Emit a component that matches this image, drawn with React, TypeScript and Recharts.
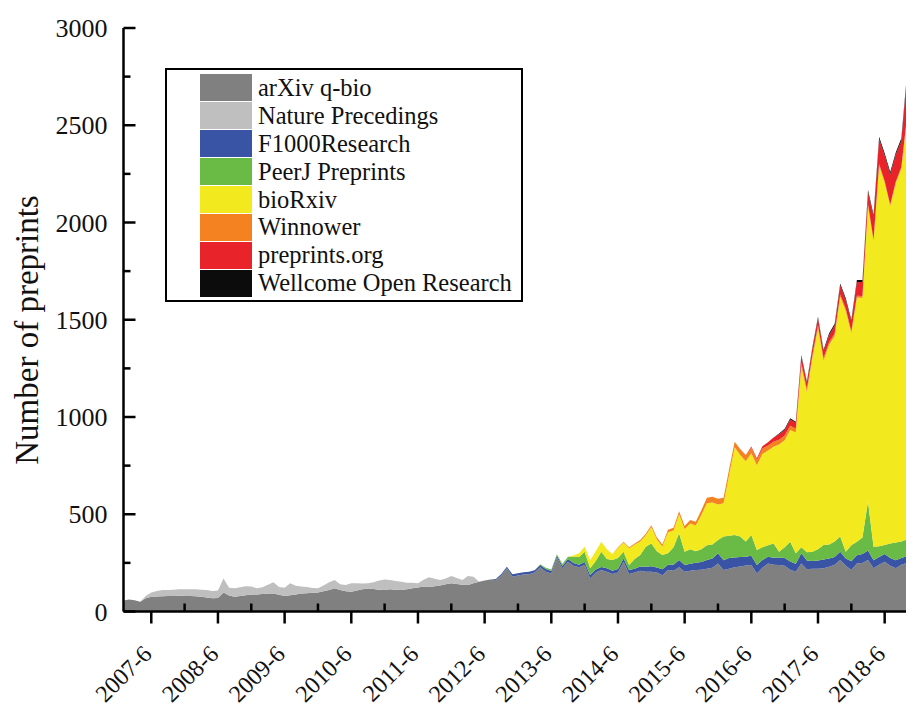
import { AreaChart, Area, XAxis, YAxis, Legend } from "recharts";

// months are counted from 2007-1 (index 0) to 2018-12 (index 143)
const MONTH_COUNT = 144;

const juneTicks = [5, 17, 29, 41, 53, 65, 77, 89, 101, 113, 125, 137];
const juneLabels = [
  "2007-6", "2008-6", "2009-6", "2010-6", "2011-6", "2012-6",
  "2013-6", "2014-6", "2015-6", "2016-6", "2017-6", "2018-6",
];
const decemberTicks = [11, 23, 35, 47, 59, 71, 83, 95, 107, 119, 131, 143];
const yTicks = [0, 250, 500, 750, 1000, 1250, 1500, 1750, 2000, 2250, 2500, 2750, 3000];

// monthly counts, each list starts at the month given by its *Start index
const arxivStart = 0;
const arxiv = [
  56, 62, 58, 50, 68, 76, 77, 78, 80, 80, 81, 80,
  80, 78, 76, 72, 68, 70, 98, 82, 76, 80, 84, 88,
  88, 90, 92, 93, 86, 80, 84, 88, 92, 94, 96, 98,
  104, 110, 119, 110, 104, 102, 108, 114, 118, 116, 112, 110,
  114, 112, 110, 114, 120, 124, 128, 126, 130, 134, 140, 145,
  142, 138, 136, 145, 153, 160, 165, 162, 185, 222, 179, 185,
  190, 191, 200, 227, 205, 196, 278, 222, 256, 235, 227, 239,
  170, 200, 213, 205, 193, 200, 256, 193, 200, 210, 205, 205,
  200, 187, 213, 210, 227, 205, 210, 213, 215, 220, 225, 247,
  213, 220, 227, 232, 236, 239, 196, 225, 247, 240, 239, 235,
  215, 205, 247, 217, 220, 220, 222, 230, 240, 265, 235, 213,
  247, 250, 265, 222, 240, 256, 235, 222, 240, 250, 265, 260,
];

const natureStart = 0;
const nature = [
  0, 0, 0, 0, 12, 22, 28, 32, 30, 32, 33, 34,
  34, 36, 36, 38, 37, 38, 72, 40, 43, 45, 46, 40,
  31, 35, 45, 57, 40, 42, 61, 45, 36, 32, 25, 21,
  30, 40, 43, 30, 32, 43, 37, 30, 27, 34, 48, 55,
  48, 45, 43, 34, 28, 21, 35, 50, 38, 28, 30, 37,
  30, 24, 46, 34,
];

const f1000Start = 67;
const f1000 = [
  5, 8, 8, 12, 12,
  12, 13, 12, 12, 14, 12, 10, 12, 14, 15, 14, 15,
  18, 16, 16, 18, 17, 18, 16, 20, 20, 22, 25, 28,
  26, 30, 28, 30, 38, 34, 36, 38, 40, 45, 48, 52,
  50, 55, 50, 48, 45, 48, 43, 40, 35, 36, 38, 40,
  42, 40, 52, 45, 40, 42, 45, 43, 40, 42, 38, 45,
  42, 45, 48, 42, 40, 39, 40, 42, 35, 35, 30, 32,
];

const peerjStart = 75;
const peerj = [
  4, 6, 8, 6, 10, 12, 31, 39, 53,
  34, 44, 78, 47, 55, 57, 35, 26, 50, 58, 103, 117,
  84, 73, 59, 90, 137, 68, 74, 59, 65, 75, 72, 68,
  122, 115, 116, 105, 79, 106, 77, 65, 58, 74, 30, 55,
  102, 54, 31, 43, 47, 58, 75, 72, 80, 78, 34, 82,
  70, 85, 252, 69, 55, 47, 75, 91, 85, 85, 81, 88,
];

const biorxivStart = 81;
const biorxiv = [
  7, 20, 26,
  43, 50, 52, 50, 30, 52, 48, 86, 74, 70, 59, 84,
  60, 44, 108, 87, 98, 117, 132, 132, 176, 217, 215, 183,
  172, 312, 452, 420, 413, 420, 436, 480, 488, 497, 551, 551,
  574, 621, 929, 823, 998, 1138, 947, 1026, 1057, 1233, 1238, 1091,
  1255, 1232, 1521, 1571, 1958, 1863, 1735, 1848, 1918, 2162, 1890, 1767,
];

const winnowerStart = 89;
const winnower = [
  3, 4, 5, 6, 7, 8, 10,
  10, 11, 12, 13, 15, 16, 18, 20, 24, 28, 30, 30,
  28, 28, 28, 30, 30, 30, 28, 28, 26, 26, 25, 24,
  22, 20, 18, 16, 15, 14, 14, 13, 12, 12, 11, 10,
  10, 10, 9, 9, 8, 8, 8, 7, 7, 7, 6, 6,
];

const preprintsStart = 112;
const preprints = [
  2, 5, 8, 12, 16, 22, 28, 30,
  32, 30, 35, 32, 33, 36, 34, 38, 42, 48, 46, 50,
  70, 72, 62, 115, 128, 132, 155, 138, 135, 205, 175, 165,
];

const wellcomeStart = 118;
const wellcome = [
  4, 5,
  6, 6, 7, 6, 7, 8, 7, 8, 9, 9, 8, 9,
  10, 10, 10, 12, 12, 11, 12, 12, 13, 14, 13, 12,
];

const series = [
  { key: "arxiv", name: "arXiv q-bio", color: "#808080", start: arxivStart, values: arxiv },
  { key: "nature", name: "Nature Precedings", color: "#bfbfbf", start: natureStart, values: nature },
  { key: "f1000", name: "F1000Research", color: "#3a54a5", start: f1000Start, values: f1000 },
  { key: "peerj", name: "PeerJ Preprints", color: "#69bb45", start: peerjStart, values: peerj },
  { key: "biorxiv", name: "bioRxiv", color: "#f2e91f", start: biorxivStart, values: biorxiv },
  { key: "winnower", name: "Winnower", color: "#f58220", start: winnowerStart, values: winnower },
  { key: "preprints", name: "preprints.org", color: "#e8242a", start: preprintsStart, values: preprints },
  { key: "wellcome", name: "Wellcome Open Research", color: "#0c0c0c", start: wellcomeStart, values: wellcome },
];

const data = Array.from({ length: MONTH_COUNT }, (_, i) => {
  const row: Record<string, number> = { i };
  series.forEach((s) => {
    const k = i - s.start;
    row[s.key] = k >= 0 && k < s.values.length ? s.values[k] : 0;
  });
  return row;
});

const FONT = "'Liberation Serif', 'Times New Roman', serif";

function XTick(props: any) {
  const { x, y, payload } = props;
  const j = juneTicks.indexOf(payload.value);
  if (j < 0) {
    return <line x1={x} y1={y} x2={x} y2={y - 8} stroke="#000" strokeWidth={2.5} />;
  }
  const ax = x + 2;
  const ay = y + 44;
  return (
    <g>
      <line x1={x} y1={y} x2={x} y2={y + 12} stroke="#000" strokeWidth={2.5} />
      <text
        x={ax}
        y={ay}
        transform={`rotate(-45, ${ax}, ${ay})`}
        textAnchor="end"
        fontSize={24}
        fontFamily={FONT}
        fill="#111"
      >
        {juneLabels[j]}
      </text>
    </g>
  );
}

function YTick(props: any) {
  const { x, y, payload } = props;
  const major = payload.value % 500 === 0;
  return (
    <g>
      <line x1={x} y1={y} x2={x + (major ? 12 : 7)} y2={y} stroke="#000" strokeWidth={2.5} />
      {major && (
        <text x={x - 16} y={y} dy="0.35em" textAnchor="end" fontSize={26} fontFamily={FONT} fill="#111">
          {payload.value}
        </text>
      )}
    </g>
  );
}

function LegendBox() {
  return (
    <div
      style={{
        border: "2px solid #000",
        background: "#fff",
        boxSizing: "border-box",
        width: 358,
        height: 234,
        padding: "4px 0 0 33px",
        fontFamily: FONT,
        color: "#111",
      }}
    >
      {series.map((s) => (
        <div key={s.key} style={{ display: "flex", alignItems: "center", height: 27.9 }}>
          <span style={{ width: 52, height: 27, background: s.color, marginRight: 6, flex: "none" }} />
          <span style={{ fontSize: 24.5, whiteSpace: "nowrap" }}>{s.name}</span>
        </div>
      ))}
    </div>
  );
}

export default function App() {
  return (
    <div style={{ margin: -8, width: 914, height: 711, overflow: "hidden", background: "#fff" }}>
      <AreaChart
        width={930}
        height={711}
        data={data}
        margin={{ top: 28, right: 12, left: 0, bottom: 0 }}
      >
        {series.map((s) => (
          <Area
            key={s.key}
            type="linear"
            dataKey={s.key}
            name={s.name}
            stackId="all"
            fill={s.color}
            fillOpacity={1}
            stroke="none"
            isAnimationActive={false}
          />
        ))}
        <XAxis
          dataKey="i"
          type="number"
          domain={[0, 143]}
          ticks={[...juneTicks, ...decemberTicks].sort((a, b) => a - b)}
          interval={0}
          height={99.5}
          tickSize={0}
          tickMargin={0}
          tickLine={false}
          tick={<XTick />}
          axisLine={{ stroke: "#000", strokeWidth: 2.5 }}
        />
        <XAxis
          xAxisId="top"
          orientation="top"
          dataKey="i"
          type="number"
          domain={[0, 143]}
          height={0}
          tick={false}
          tickLine={false}
          axisLine={{ stroke: "#000", strokeWidth: 2.5 }}
        />
        <YAxis
          type="number"
          domain={[0, 3000]}
          ticks={yTicks}
          interval={0}
          width={123.5}
          tickSize={0}
          tickMargin={0}
          tickLine={false}
          tick={<YTick />}
          axisLine={{ stroke: "#000", strokeWidth: 2.5 }}
          label={() => (
            <text
              x={38}
              y={330}
              transform="rotate(-90, 38, 330)"
              textAnchor="middle"
              fontSize={33}
              fontFamily={FONT}
              fill="#111"
            >
              Number of preprints
            </text>
          )}
        />
        <Legend
          layout="vertical"
          align="center"
          verticalAlign="middle"
          content={<LegendBox />}
          wrapperStyle={{ left: 165, top: 68, width: 358, height: 234 }}
        />
      </AreaChart>
    </div>
  );
}
